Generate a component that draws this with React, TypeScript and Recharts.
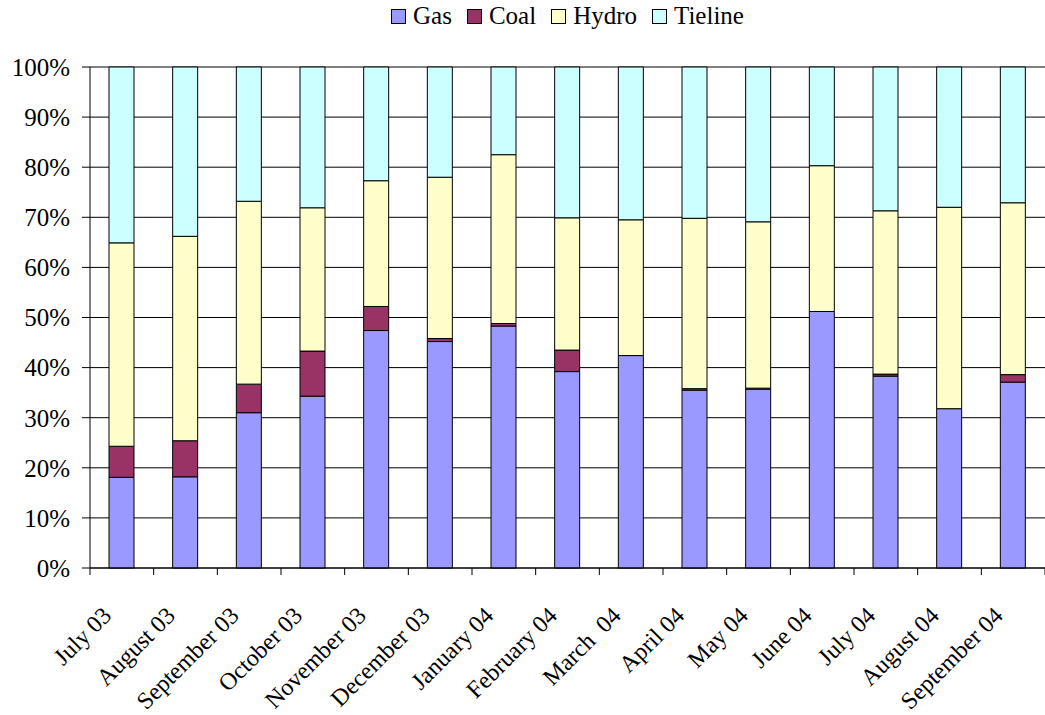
import { BarChart, Bar, XAxis, YAxis, CartesianGrid } from 'recharts';

const months = [
  'July 03', 'August 03', 'September 03', 'October 03', 'November 03', 'December 03',
  'January 04', 'February 04', 'March  04', 'April 04', 'May 04', 'June 04',
  'July 04', 'August 04', 'September 04',
];

const gas = [18.1, 18.2, 31.0, 34.3, 47.4, 45.2, 48.3, 39.2, 42.4, 35.5, 35.7, 51.2, 38.3, 31.8, 37.1];
const coal = [6.2, 7.2, 5.7, 9.0, 4.8, 0.6, 0.5, 4.3, 0, 0.3, 0.2, 0, 0.4, 0, 1.5];
const hydro = [40.6, 40.8, 36.5, 28.6, 25.1, 32.2, 33.7, 26.4, 27.1, 34.0, 33.2, 29.1, 32.6, 40.2, 34.3];
const tieline = [35.1, 33.8, 26.8, 28.1, 22.7, 22.0, 17.5, 30.1, 30.5, 30.2, 30.9, 19.7, 28.7, 28.0, 27.1];

const yTicks = [0, 0.1, 0.2, 0.3, 0.4, 0.5, 0.6, 0.7, 0.8, 0.9, 1];

const data = months.map((month, i) => ({
  month,
  Gas: gas[i],
  Coal: coal[i],
  Hydro: hydro[i],
  Tieline: tieline[i],
}));

const SERIES = [
  { key: 'Gas', color: '#9999FF' },
  { key: 'Coal', color: '#993366' },
  { key: 'Hydro', color: '#FFFFCC' },
  { key: 'Tieline', color: '#CCFFFF' },
];

const W = 1045;
const H = 715;
const LEFT = 90;
const BAND = (W - LEFT) / months.length;
const FONT = "'Liberation Serif', 'DejaVu Serif', serif";

function MonthTick({ x, y, payload, index }: any) {
  const half = BAND / 2;
  const tx = x - 9;
  const ty = y + 49;
  return (
    <g>
      <line x1={x - half} x2={x - half} y1={y} y2={y + 7} stroke="#000" />
      {index === months.length - 1 && (
        <line x1={x + half} x2={x + half} y1={y} y2={y + 7} stroke="#000" />
      )}
      <text
        x={tx}
        y={ty}
        textAnchor="end"
        transform={`rotate(-45, ${tx}, ${ty})`}
        style={{ fontFamily: FONT, fontSize: 24, whiteSpace: 'pre' }}
        fill="#000"
      >
        {payload.value}
      </text>
    </g>
  );
}

// legend sits above the plot without taking space from it
function LegendRow() {
  return (
    <div
      style={{
        position: 'absolute',
        top: 0,
        left: LEFT,
        width: W - LEFT,
        height: 32,
        display: 'flex',
        justifyContent: 'center',
        alignItems: 'center',
        gap: 15,
        fontFamily: FONT,
        fontSize: 25,
        color: '#000',
      }}
    >
      {SERIES.map((s) => (
        <div key={s.key} style={{ display: 'flex', alignItems: 'center' }}>
          <span style={{ width: 13, height: 13, background: s.color, border: '1px solid #000', marginRight: 7 }} />
          <span>{s.key}</span>
        </div>
      ))}
    </div>
  );
}

export default function App() {
  return (
    <div style={{ position: 'absolute', left: 0, top: 0, width: W, height: H, background: '#fff' }}>
      <BarChart
        width={W}
        height={H}
        data={data}
        stackOffset="expand"
        barSize={25}
        margin={{ top: 67, right: 0, left: 0, bottom: 0 }}
      >
        <CartesianGrid vertical={false} stroke="#000" strokeWidth={1} />
        <XAxis
          dataKey="month"
          interval={0}
          height={147}
          tickLine={false}
          tickSize={0}
          tickMargin={0}
          axisLine={{ stroke: '#000' }}
          tick={<MonthTick />}
        />
        <YAxis
          width={LEFT}
          domain={[0, 1]}
          ticks={yTicks}
          tickSize={8}
          tickMargin={12}
          axisLine={{ stroke: '#000' }}
          tickLine={{ stroke: '#000' }}
          tick={{ style: { fontFamily: FONT, fontSize: 25 }, fill: '#000' }}
          tickFormatter={(v: number) => `${Math.round(v * 100)}%`}
        />
        {SERIES.map((s) => (
          <Bar
            key={s.key}
            dataKey={s.key}
            stackId="mix"
            fill={s.color}
            stroke="#000"
            strokeWidth={1}
            isAnimationActive={false}
          />
        ))}
      </BarChart>
      <LegendRow />
    </div>
  );
}
